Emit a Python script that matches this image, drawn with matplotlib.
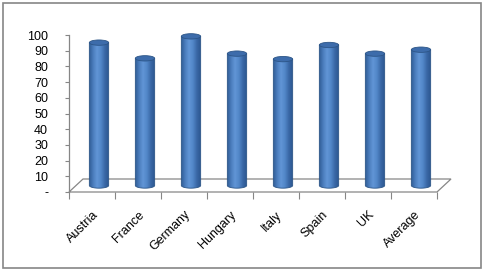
import numpy as np
import matplotlib.pyplot as plt
from matplotlib.patches import Polygon, Ellipse, Rectangle
from matplotlib.colors import LinearSegmentedColormap

# data
countries = ['Austria', 'France', 'Germany', 'Hungary', 'Italy', 'Spain', 'UK', 'Average']
values = [91, 81, 95, 84, 80.5, 89.5, 84, 86.5]
yticks = [0, 10, 20, 30, 40, 50, 60, 70, 80, 90, 100]
ytick_labels = ['-'] + [str(t) for t in yticks[1:]]

W, H = 483, 271
fig = plt.figure(figsize=(W / 100, H / 100), dpi=100)
fig.patch.set_facecolor('white')

# chart area border
fig.add_artist(Rectangle((3 / W, 3 / H), 478 / W, 265 / H, transform=fig.transFigure,
                         fill=False, edgecolor='#868686', lw=1.2))

# axes: x 0..8 -> px 69..437, y 0..100 -> px 192..35
ax = fig.add_axes([69 / W, (H - 192) / H, 368 / W, 157 / H])
n = len(countries)

# 3d depth offset in data units
dx = 14 / 46
dy = 13 / 1.57
grey = '#868686'

# floor
floor = Polygon([(0, 0), (n, 0), (n + dx, dy), (dx, dy)], closed=True,
                 facecolor='white', edgecolor=grey, lw=0.9, clip_on=False, zorder=1)
ax.add_patch(floor)

# cylinders (sit at mid depth of the floor)
cyl_w = 0.42
ell_h = 3.4
cmap = LinearSegmentedColormap.from_list('cyl', ['#2f5b94', '#4a7cbc', '#6195d6', '#5287c8', '#3a68a6', '#2c5790'])
grad = np.linspace(0, 1, 64).reshape(1, -1)
base = dy / 2
for i, v in enumerate(values):
    cx = i + 0.5 + dx / 2
    xl, xr = cx - cyl_w / 2, cx + cyl_w / 2
    top = base + v
    t = np.linspace(np.pi, 2 * np.pi, 40)
    bottom_pts = [(cx + cyl_w / 2 * np.cos(a), base + ell_h / 2 * np.sin(a)) for a in t]
    body = [(xl, top)] + bottom_pts + [(xr, top)]
    outline = Polygon(body, closed=True, facecolor='none', edgecolor='#2c5587', lw=0.6,
                      zorder=3, clip_on=False)
    ax.add_patch(outline)
    im = ax.imshow(grad, cmap=cmap, extent=[xl, xr, base - ell_h, top], aspect='auto', zorder=2)
    im.set_clip_path(outline)
    ax.add_patch(Ellipse((cx, top), cyl_w, ell_h, facecolor='#3d6cab', edgecolor='#2c5587',
                         lw=0.6, zorder=4, clip_on=False))

ax.set_xlim(0, n)
ax.set_ylim(0, 100)

# axes styling
for s in ['top', 'right', 'bottom']:
    ax.spines[s].set_visible(False)
ax.spines['left'].set_color(grey)
ax.spines['left'].set_linewidth(0.9)

ax.set_yticks(yticks)
ax.set_yticklabels(ytick_labels, fontsize=9, family='Liberation Sans')
ax.tick_params(axis='y', length=3, color=grey, pad=12, direction='out')

ax.set_xticks(np.arange(n + 1))
ax.set_xticklabels([])
ax.tick_params(axis='x', length=5, color=grey, direction='out')
ax.set_xticks(np.arange(n) + 0.5, minor=True)
ax.set_xticklabels(countries, minor=True, rotation=45, ha='right', rotation_mode='anchor',
                   fontsize=9, family='Liberation Sans')
ax.tick_params(axis='x', which='minor', length=0, pad=12)

ax.set_facecolor('none')
fig.savefig('out.png', dpi=100, facecolor='white')
